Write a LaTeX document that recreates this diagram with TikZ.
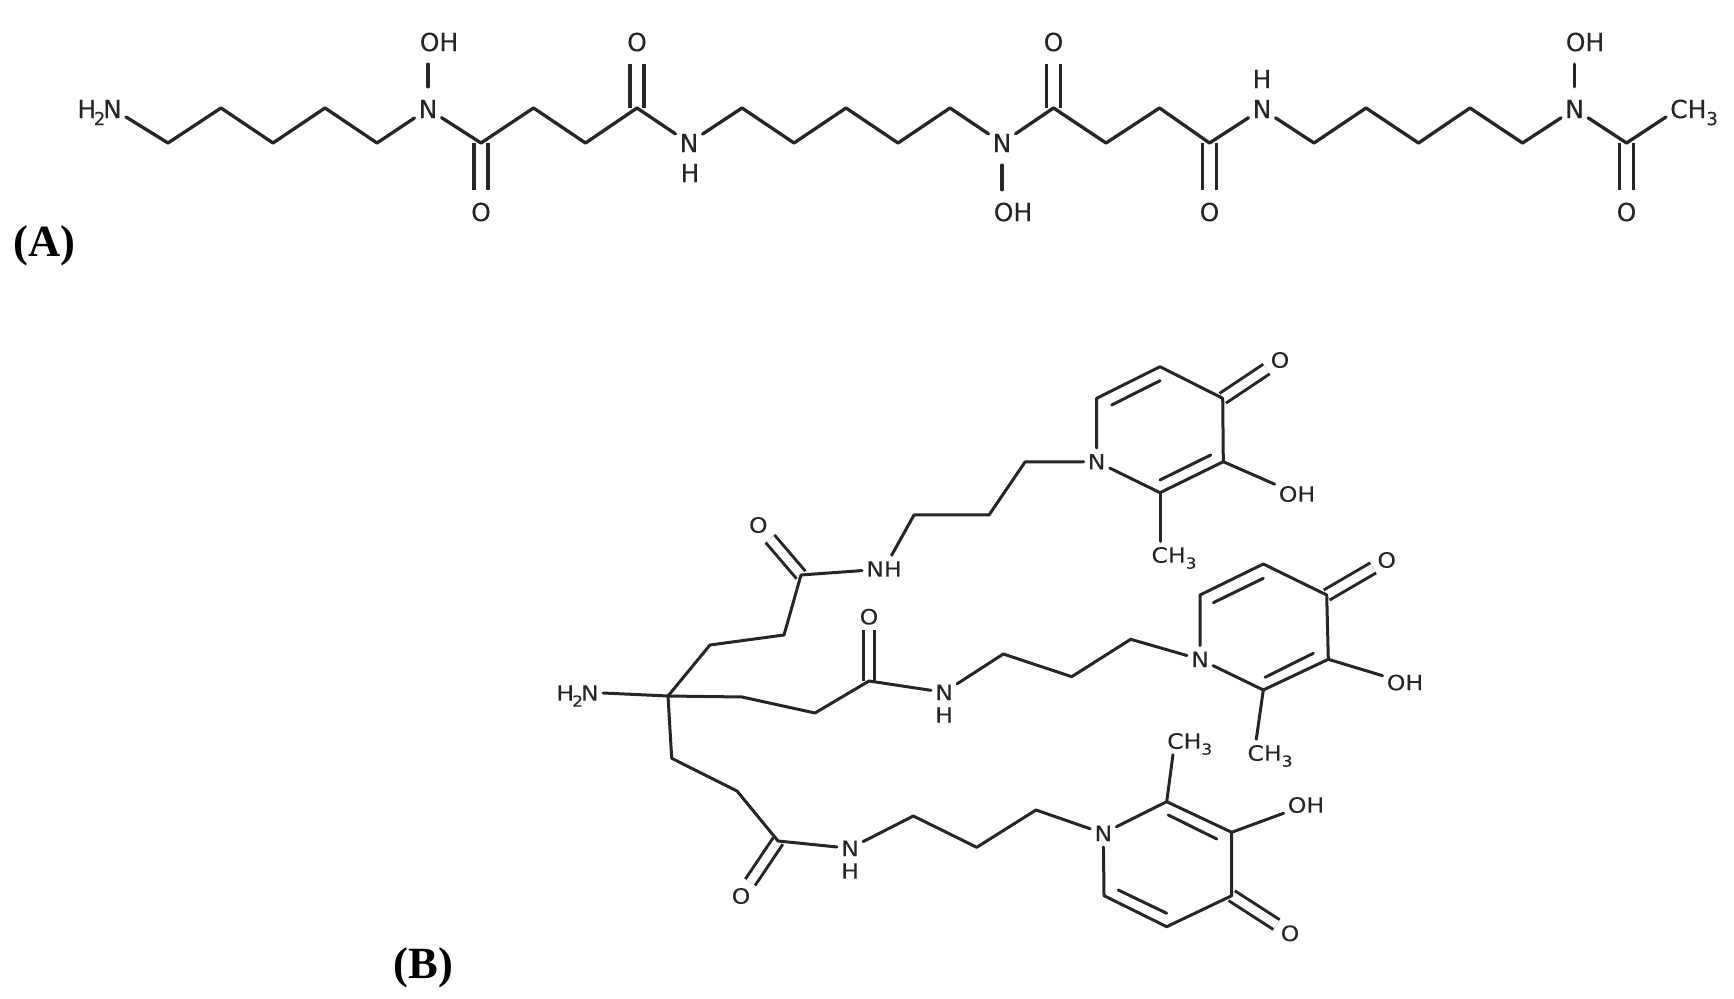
\documentclass[tikz,border=0pt]{standalone}
\usepackage{fontspec}
\setmainfont{Liberation Serif}
\newfontfamily\chemA[FakeBold=0.2]{DejaVu Sans}
\newfontfamily\chemB[FakeStretch=1.12,FakeBold=0.15]{DejaVu Sans}
\newcommand{\subn}[1]{\raisebox{-0.28em}{\scalebox{0.72}{#1}}}
\newcommand{\amine}{H\kern-0.09em\subn{2}\kern-0.09emN}
\colorlet{ink}{black!85}
\tikzset{
bondA/.style={draw=ink,line width=0.33mm,line join=round,line cap=round},
bondB/.style={draw=ink,line width=0.3mm,line join=round,line cap=round},
dblA/.style={draw=ink,line width=0.33mm,double,double distance=1.08mm},
dblB/.style={draw=ink,line width=0.3mm,double,double distance=0.85mm},
atomA/.style={text=ink,font=\chemA\fontsize{7.1}{8}\selectfont,inner xsep=1pt,inner ysep=3.5pt,text height=5.2pt,text depth=0pt},
atomB/.style={text=ink,font=\chemB\fontsize{6}{7}\selectfont,inner xsep=1pt,inner ysep=1.5pt,text height=4.4pt,text depth=0pt},
panel/.style={font=\fontsize{12.7}{15}\selectfont\bfseries,inner sep=0pt,anchor=base west}
}
\begin{document}
\begin{tikzpicture}[x=0.1mm,y=-0.1mm]
\useasboundingbox (0,0) rectangle (1734,999);
\node[panel](lblA) at (13,257){(A)};
\node[panel](lblB) at (393,978){(B)};
\node[atomA,anchor=east](h2na) at (126,109){\amine};
\coordinate(a1) at (168,143);\coordinate(a2) at (221,108);\coordinate(a3) at (273,143);
\coordinate(a4) at (325,108);\coordinate(a5) at (377,143);
\node[atomA](na1) at (428,109){N};
\node[atomA](oha1) at (439,42){OH};
\coordinate(a6) at (481,143);\coordinate(a7) at (533.5,108);\coordinate(a8) at (585.5,143);
\coordinate(a9) at (637,108);
\node[atomA](oa1) at (481,212){O};
\node[atomA](oa2) at (637,42){O};
\node[atomA](na2) at (689,143){N};
\node[atomA](ha2) at (690,173){H};
\coordinate(a10) at (742,108);\coordinate(a11) at (794,143);\coordinate(a12) at (846,108);
\coordinate(a13) at (898,143);\coordinate(a14) at (950,108);
\node[atomA](na3) at (1002,143){N};
\node[atomA](oha3) at (1013,212){OH};
\coordinate(a15) at (1053.5,108);\coordinate(a16) at (1106,143);\coordinate(a17) at (1159.5,108);
\coordinate(a18) at (1209.5,143);
\node[atomA](oa3) at (1053.5,42){O};
\node[atomA](oa4) at (1209.5,212){O};
\node[atomA](na4) at (1262,109){N};
\node[atomA](ha4) at (1262,79){H};
\coordinate(a19) at (1314,143);\coordinate(a20) at (1366,108);\coordinate(a21) at (1418.5,143);
\coordinate(a22) at (1470,108);\coordinate(a23) at (1522.5,143);
\node[atomA](na5) at (1574.6,109){N};
\node[atomA](oha5) at (1585,42){OH};
\coordinate(a24) at (1626.5,143);
\node[atomA](oa5) at (1626.5,212){O};
\node[atomA,anchor=west](cha) at (1666,109){CH\subn{3}};
\draw[dblA](a6)--(oa1);
\draw[dblA](a9)--(oa2);
\draw[dblA](a15)--(oa3);
\draw[dblA](a18)--(oa4);
\draw[dblA](a24)--(oa5);
\draw[bondA]([yshift=-0.8mm]h2na.east)--(a1)--(a2)--(a3)--(a4)--(a5)--(na1)--(a6)--(a7)--(a8)--(a9)--(na2)--(a10)--(a11)--(a12)--(a13)--(a14)--(na3)--(a15)--(a16)--(a17)--(a18)--(na4)--(a19)--(a20)--(a21)--(a22)--(a23)--(na5)--(a24)--([yshift=-0.8mm]cha.west);
\draw[bondA](na1)--(na1|-oha1.south);
\draw[bondA](na3)--(na3|-oha3.north);
\draw[bondA](na5)--(na5|-oha5.south);
\coordinate(cq) at (668,696);
\node[atomB,anchor=east](h2nb) at (603,693){\amine};
\coordinate(b1) at (710,645);\coordinate(b2) at (784,635);\coordinate(b3) at (801,575);
\node[atomB](ob1) at (758.3,525){O};
\node[atomB](nhb1) at (884,569){NH};
\coordinate(b4) at (914,515);\coordinate(b5) at (989,515);\coordinate(b6) at (1025,462);
\node[atomB](nb1) at (1096.7,461.7){N};
\coordinate(ra1) at (1096.7,398.3);\coordinate(rb1) at (1160,366.7);\coordinate(rc1) at (1222.7,398.3);
\coordinate(rd1) at (1223.3,461.7);\coordinate(re1) at (1160,492.7);
\coordinate(ia1) at (1111.7,405);\coordinate(ib1) at (1160,380.7);
\coordinate(ic1) at (1160,480);\coordinate(id1) at (1210.7,455);
\node[atomB](or1) at (1280,360){O};
\node[atomB](ohb1) at (1297,494){OH};
\node[atomB](chb1) at (1174,555){CH\subn{3}};
\draw[dblB](b3)--(ob1);
\draw[dblB](rc1)--(or1);
\draw[bondB](h2nb.east)--(cq)--(b1)--(b2)--(b3)--(nhb1)--(b4)--(b5)--(b6)--(nb1)--(ra1)--(rb1)--(rc1)--(rd1)--(re1)--(nb1);
\draw[bondB](ia1)--(ib1);
\draw[bondB](ic1)--(id1);
\draw[bondB](rd1)--(ohb1);
\draw[bondB](re1)--(re1|-chb1.north);
\coordinate(c1) at (742,697);\coordinate(c2) at (815,713);\coordinate(c3) at (869,681);
\node[atomB](oc1) at (869,616.7){O};
\node[atomB](nb2) at (944,692.3){N};
\node[atomB](hb2) at (944,715){H};
\coordinate(c4) at (1003.3,654);\coordinate(c5) at (1071.7,676.7);\coordinate(c6) at (1130.7,639.3);
\node[atomB](nr2) at (1200,659.3){N};
\coordinate(ra2) at (1200,595);\coordinate(rb2) at (1263.3,564);\coordinate(rc2) at (1326.7,595);
\coordinate(rd2) at (1328.3,659.3);\coordinate(re2) at (1263.3,690);
\coordinate(ia2) at (1213.3,602.7);\coordinate(ib2) at (1263.3,578.3);
\coordinate(ic2) at (1265,677.3);\coordinate(id2) at (1313.3,653.3);
\node[atomB](or2) at (1386.7,560){O};
\node[atomB](ohb2) at (1405,682.5){OH};
\node[atomB](chb2) at (1270,753){CH\subn{3}};
\draw[dblB](c3)--(oc1);
\draw[dblB](rc2)--(or2);
\draw[bondB](cq)--(c1)--(c2)--(c3)--(nb2)--(c4)--(c5)--(c6)--(nr2)--(ra2)--(rb2)--(rc2)--(rd2)--(re2)--(nr2);
\draw[bondB](ia2)--(ib2);
\draw[bondB](ic2)--(id2);
\draw[bondB](rd2)--(ohb2);
\draw[bondB](re2)--([xshift=1.3mm]chb2.north west);
\coordinate(d1) at (671.7,758.3);\coordinate(d2) at (737,791);\coordinate(d3) at (778,841);
\node[atomB](od1) at (741,896){O};
\node[atomB](nb3) at (850,848.3){N};
\node[atomB](hb3) at (850,871){H};
\coordinate(d4) at (913.3,816);\coordinate(d5) at (976.7,847.3);\coordinate(d6) at (1036,810);
\node[atomB](nr3) at (1103.3,833.3){N};
\coordinate(re3) at (1166.7,801.7);\coordinate(rd3) at (1231.7,832.3);\coordinate(rc3) at (1231.7,895.7);
\coordinate(rb3) at (1166.7,926.7);\coordinate(ra3) at (1104,895.7);
\coordinate(ia3) at (1118.3,890);\coordinate(ib3) at (1166.7,913.3);
\coordinate(ic3) at (1168.3,815);\coordinate(id3) at (1216.7,839);
\node[atomB](or3) at (1290,933.3){O};
\node[atomB](ohb3) at (1306,805){OH};
\node[atomB](chb3) at (1189.7,741){CH\subn{3}};
\draw[dblB](d3)--(od1);
\draw[dblB](rc3)--(or3);
\draw[bondB](cq)--(d1)--(d2)--(d3)--(nb3)--(d4)--(d5)--(d6)--(nr3)--(re3)--(rd3)--(rc3)--(rb3)--(ra3)--(nr3);
\draw[bondB](ia3)--(ib3);
\draw[bondB](ic3)--(id3);
\draw[bondB](rd3)--(ohb3);
\draw[bondB](re3)--([xshift=1mm]chb3.south west);
\end{tikzpicture}
\end{document}
